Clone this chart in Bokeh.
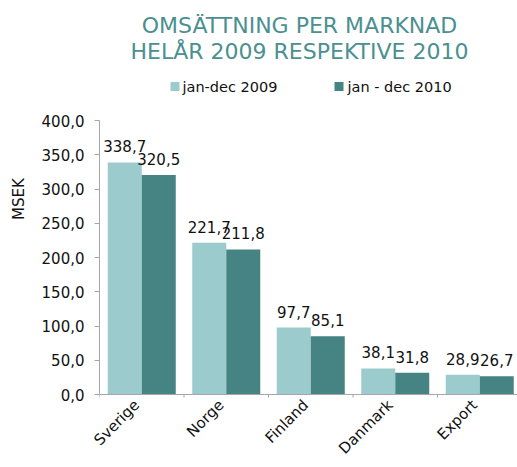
import math
import numpy as np
from bokeh.plotting import figure
from bokeh.models import (ColumnDataSource, FixedTicker, CustomJSTickFormatter,
                          LabelSet, Range1d)
from bokeh.core.properties import value
from bokeh.embed import file_html
from bokeh.resources import INLINE

categories = ["Sverige", "Norge", "Finland", "Danmark", "Export"]
values_2009 = [338.7, 221.7, 97.7, 38.1, 28.9]
values_2010 = [320.5, 211.8, 85.1, 31.8, 26.7]
series_labels = ["jan-dec 2009", "jan - dec 2010"]
title_lines = ["OMSÄTTNING PER MARKNAD", "HELÅR 2009 RESPEKTIVE 2010"]
y_ticks = [0, 50, 100, 150, 200, 250, 300, 350, 400]
y_label = "MSEK"

LIGHT = "#9bcbcc"
DARK = "#458483"
TITLE_COLOR = "#4b9090"
AXIS_COLOR = "#a6a6a6"
TEXT_COLOR = "#111111"
FONT = "DejaVu Sans"

# layout in canvas pixels
FIG_W, FIG_H = 517, 467
FRAME_L = 99          # left edge of plotting area
BOTTOM_PANEL = 70     # space reserved for the category labels
FRAME_B = FIG_H - BOTTOM_PANEL
ZERO_Y = 394          # pixel row of value 0
TOP_Y = 120           # pixel row of value 400
Y_AXIS_MAX = 400
PPY = (ZERO_Y - TOP_Y) / Y_AXIS_MAX
PPX = 84.5            # pixels per category
X0 = -0.5
X1 = X0 + (FIG_W - FRAME_L) / PPX


def fmt(v):
    return f"{v:.1f}".replace(".", ",")


def dx(px):
    return X0 + (px - FRAME_L) / PPX


def dy(py):
    return (ZERO_Y - py) / PPY


xc = np.arange(len(categories), dtype=float)
bw = 34 / PPX

src09 = ColumnDataSource(dict(x=xc - bw / 2, top=values_2009, lab=[fmt(v) for v in values_2009]))
src10 = ColumnDataSource(dict(x=xc + bw / 2, top=values_2010, lab=[fmt(v) for v in values_2010]))

p = figure(width=FIG_W, height=FIG_H, x_range=Range1d(X0, X1), y_range=Range1d(dy(FRAME_B), dy(0)),
           output_backend="svg", toolbar_location=None,
           min_border_left=FRAME_L, min_border_right=0, min_border_bottom=BOTTOM_PANEL,
           min_border_top=0)
p.outline_line_color = None
p.xgrid.visible = False
p.ygrid.visible = False
p.background_fill_color = "white"
p.border_fill_color = "white"

r1 = p.vbar(x="x", top="top", width=bw, source=src09, fill_color=LIGHT, line_color=None)
r2 = p.vbar(x="x", top="top", width=bw, source=src10, fill_color=DARK, line_color=None)

for src in (src09, src10):
    p.add_layout(LabelSet(x="x", y="top", text="lab", source=src, text_align="center",
                          text_baseline="alphabetic", y_offset=10, text_font=value(FONT),
                          text_font_size="15px", text_color=TEXT_COLOR))

# category axis line and boundary tick marks at value 0
bounds = np.array([i - 0.5 for i in range(len(categories))])
p.segment(x0=[X0], y0=[0], x1=[X1], y1=[0], line_color=AXIS_COLOR, line_width=1)
p.segment(x0=bounds, y0=np.zeros(len(bounds)), x1=bounds, y1=np.full(len(bounds), dy(ZERO_Y + 5)),
          line_color=AXIS_COLOR, line_width=1)

# title (two lines, centred)
title_src = ColumnDataSource(dict(x=[dx(299), dx(299)], y=[dy(24.5), dy(50.5)], t=title_lines))
p.text(x="x", y="y", text="t", source=title_src, text_align="center",
       text_baseline="alphabetic", text_font=value(FONT), text_font_size="22px",
       text_color=TITLE_COLOR)

# legend
leg_src = ColumnDataSource(dict(x=[dx(174.5), dx(338.5)], y=[dy(86), dy(86)],
                                tx=[dx(182), dx(347)], c=[LIGHT, DARK], t=series_labels))
p.rect(x="x", y="y", width=9, height=9, width_units="screen", height_units="screen",
       source=leg_src, fill_color="c", line_color=None)
p.text(x="tx", y="y", text="t", source=leg_src, text_align="left", text_baseline="middle",
       text_font=value(FONT), text_font_size="14.5px", text_color=TEXT_COLOR)

# x axis: only the rotated category names
xa = p.xaxis[0]
xa.ticker = FixedTicker(ticks=list(xc - 5 / PPX))
xa.formatter = CustomJSTickFormatter(args=dict(cats=categories),
                                     code="return cats[Math.round(tick)] || '';")
xa.major_label_orientation = math.pi / 4
xa.axis_line_color = None
xa.major_tick_line_color = None
xa.minor_tick_line_color = None
xa.major_tick_in = 0
xa.major_tick_out = 0
xa.minor_tick_in = 0
xa.minor_tick_out = 0
xa.major_label_text_font = FONT
xa.major_label_text_font_size = "15px"
xa.major_label_text_color = TEXT_COLOR
xa.major_label_standoff = 5

# y axis
ya = p.yaxis[0]
ya.ticker = FixedTicker(ticks=y_ticks)
ya.bounds = (0, Y_AXIS_MAX)
ya.formatter = CustomJSTickFormatter(code="return tick.toFixed(1).replace('.', ',');")
ya.axis_line_color = AXIS_COLOR
ya.major_tick_line_color = AXIS_COLOR
ya.major_tick_in = 0
ya.major_tick_out = 5
ya.minor_tick_line_color = None
ya.major_label_text_font = FONT
ya.major_label_text_font_size = "15px"
ya.major_label_text_color = TEXT_COLOR
ya.major_label_standoff = 10
ya.axis_label = y_label
ya.axis_label_text_font = FONT
ya.axis_label_text_font_size = "15px"
ya.axis_label_text_font_style = "normal"
ya.axis_label_text_color = TEXT_COLOR
ya.axis_label_standoff = 11

open("out.html", "w").write(file_html(p, INLINE))
